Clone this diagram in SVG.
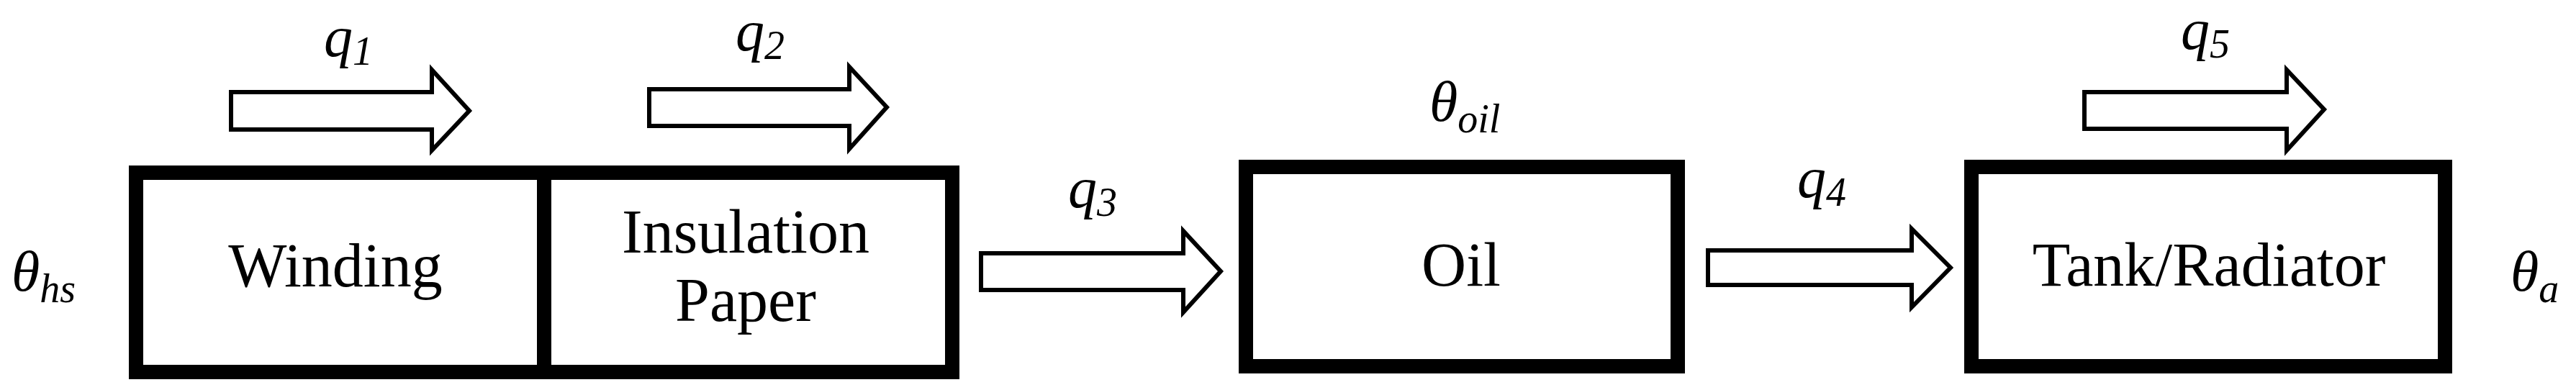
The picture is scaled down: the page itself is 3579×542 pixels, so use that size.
<svg xmlns="http://www.w3.org/2000/svg" width="3579" height="542" viewBox="0 0 3579 542">
<style>
.box{fill:#fff;stroke:#000;stroke-width:20}
.arr{fill:#fff;stroke:#000;stroke-width:6;stroke-linejoin:miter}
.lbl{font-family:"Liberation Serif","Times New Roman","DejaVu Serif",serif;font-size:86px;fill:#000;text-anchor:middle}
.m{font-family:"Liberation Serif","Times New Roman","DejaVu Serif",serif;font-style:italic;font-size:80px;fill:#000}
.s{font-size:56px}
</style>
<g id="connectors">
<polygon class="arr" points="321,128 600,128 600,97 652,154 600,209 600,180 321,180"/>
<polygon class="arr" points="902,124 1180,124 1180,93 1232,149 1180,207 1180,175 902,175"/>
<polygon class="arr" points="1363,352 1644,352 1644,321 1696,377 1644,434 1644,403 1363,403"/>
<polygon class="arr" points="2373,348 2656,348 2656,318 2710,372 2656,427 2656,396 2373,396"/>
<polygon class="arr" points="2896,128 3177,128 3177,97 3229,152 3177,209 3177,179 2896,179"/>
</g>
<g id="winding"><rect class="box" x="189" y="240" width="567" height="277"/><text class="lbl" x="466" y="398">Winding</text></g>
<g id="paper"><rect class="box" x="756" y="240" width="567" height="277"/><text class="lbl" x="1036" y="351">Insulation</text><text class="lbl" x="1036" y="446">Paper</text></g>
<g id="oil"><rect class="box" x="1731" y="232" width="600" height="277"/><text class="lbl" x="2030" y="397">Oil</text></g>
<g id="tank"><rect class="box" x="2739" y="232" width="658" height="277"/><text class="lbl" x="3069" y="397">Tank/Radiator</text></g>
<g id="labels">
<text class="m" x="450" y="78">q<tspan class="s" dy="12">1</tspan></text>
<text class="m" x="1022" y="70">q<tspan class="s" dy="12">2</tspan></text>
<text class="m" x="1484" y="288">q<tspan class="s" dy="12">3</tspan></text>
<text class="m" x="2497" y="274">q<tspan class="s" dy="12">4</tspan></text>
<text class="m" x="3030" y="68">q<tspan class="s" dy="12">5</tspan></text>
<text class="m" x="16" y="404">θ<tspan class="s" dy="16">hs</tspan></text>
<text class="m" x="1986" y="168">θ<tspan class="s" dy="16">oil</tspan></text>
<text class="m" x="3488" y="404">θ<tspan class="s" dy="16">a</tspan></text>
</g>
</svg>
